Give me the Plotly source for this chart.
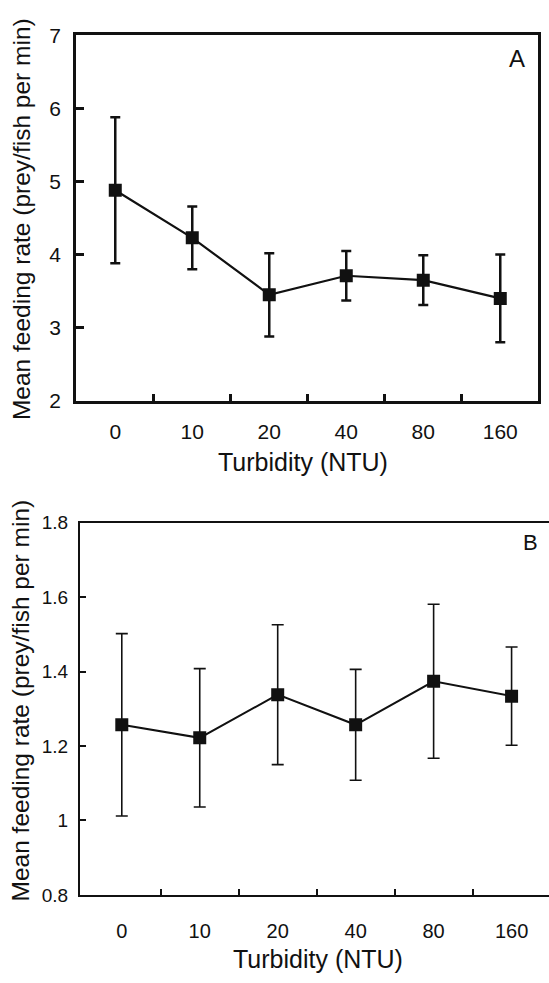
import plotly.graph_objects as go

W, H = 549, 983

categories = ["0", "10", "20", "40", "80", "160"]
mean_a = [4.88, 4.23, 3.45, 3.71, 3.65, 3.40]
err_a = [1.00, 0.43, 0.57, 0.34, 0.34, 0.60]
mean_b = [1.257, 1.222, 1.338, 1.257, 1.374, 1.334]
err_b = [0.245, 0.186, 0.188, 0.149, 0.207, 0.132]
yticks_a = [2, 3, 4, 5, 6, 7]
yticks_b = [0.8, 1.0, 1.2, 1.4, 1.6, 1.8]
yticktext_b = ["0.8", "1", "1.2", "1.4", "1.6", "1.8"]
xlabel = "Turbidity (NTU)"
ylabel = "Mean feeding rate (prey/fish per min)"

FONT = "Liberation Sans, Arial, sans-serif"
INK = "#111111"

def px(x):
    return x / W

def py(y):
    return 1 - y / H

xs = list(range(len(categories)))

fig = go.Figure()
fig.add_trace(go.Scatter(
    x=xs, y=mean_a, mode="lines+markers",
    line=dict(color=INK, width=2.2),
    marker=dict(symbol="square", size=13, color=INK),
    error_y=dict(type="data", array=err_a, color=INK, thickness=2.5, width=5),
    xaxis="x", yaxis="y", showlegend=False,
))
fig.add_trace(go.Scatter(
    x=xs, y=mean_b, mode="lines+markers",
    line=dict(color=INK, width=2),
    marker=dict(symbol="square", size=13, color=INK),
    error_y=dict(type="data", array=err_b, color=INK, thickness=1.6, width=6),
    xaxis="x2", yaxis="y2", showlegend=False,
))

half = [i + 0.5 for i in range(len(categories) - 1)]

common_x = dict(
    tickmode="array", tickvals=xs, ticktext=categories, ticks="",
    showgrid=False, zeroline=False, showline=True, linecolor=INK,
    mirror=True, tickcolor=INK,
)

fig.update_layout(
    width=W, height=H,
    margin=dict(l=0, r=0, t=0, b=0),
    paper_bgcolor="white", plot_bgcolor="white",
    font=dict(family=FONT, color=INK),
    xaxis=dict(
        **common_x, domain=[px(76), px(538)], range=[-0.51, 5.49],
        anchor="y", linewidth=2.5,
        tickfont=dict(size=21, family=FONT, color=INK),
        ticklabelstandoff=10,
        minor=dict(tickmode="array", tickvals=half, ticks="inside",
                   ticklen=7, tickwidth=2.5, tickcolor=INK, showgrid=False),
    ),
    yaxis=dict(
        domain=[py(398), py(24)], range=[2, 7], anchor="x",
        tickmode="array", tickvals=yticks_a,
        ticks="inside", ticklen=8, tickwidth=2.5, tickcolor=INK,
        showgrid=False, zeroline=False, showline=True, linecolor=INK,
        linewidth=2.5, mirror=True,
        tickfont=dict(size=21, family=FONT, color=INK),
        ticklabelstandoff=8,
    ),
    xaxis2=dict(
        **common_x, domain=[px(80), 1.0], range=[-0.536, 5.48],
        anchor="y2", linewidth=2,
        tickfont=dict(size=20, family=FONT, color=INK),
        ticklabelstandoff=17,
        minor=dict(tickmode="array", tickvals=half, ticks="inside",
                   ticklen=6, tickwidth=2, tickcolor=INK, showgrid=False),
    ),
    yaxis2=dict(
        domain=[py(904), py(523)], range=[0.8, 1.8], anchor="x2",
        tickmode="array", tickvals=yticks_b, ticktext=yticktext_b,
        ticks="inside", ticklen=6, tickwidth=2, tickcolor=INK,
        showgrid=False, zeroline=False, showline=True, linecolor=INK,
        linewidth=2, mirror=False,
        tickfont=dict(size=19, family=FONT, color=INK),
        ticklabelstandoff=6,
    ),
)

ann = []
ann.append(dict(text=ylabel, x=px(21), y=py(212), xref="paper", yref="paper",
                xanchor="center", yanchor="middle", textangle=-90,
                showarrow=False, font=dict(size=24.5, family=FONT, color=INK)))
ann.append(dict(text=xlabel, x=px(303), y=py(461), xref="paper", yref="paper",
                xanchor="center", yanchor="middle",
                showarrow=False, font=dict(size=25, family=FONT, color=INK)))
ann.append(dict(text="A", x=px(517), y=py(48), xref="paper", yref="paper",
                xanchor="center", yanchor="middle",
                showarrow=False, font=dict(size=24, family=FONT, color=INK)))
ann.append(dict(text=ylabel, x=px(21), y=py(705), xref="paper", yref="paper",
                xanchor="center", yanchor="middle", textangle=-90,
                showarrow=False, font=dict(size=24.5, family=FONT, color=INK)))
ann.append(dict(text=xlabel, x=px(318), y=py(970), xref="paper", yref="paper",
                xanchor="center", yanchor="middle",
                showarrow=False, font=dict(size=25, family=FONT, color=INK)))
ann.append(dict(text="B", x=px(530), y=py(543), xref="paper", yref="paper",
                xanchor="center", yanchor="middle",
                showarrow=False, font=dict(size=22, family=FONT, color=INK)))
fig.update_layout(annotations=ann)

fig.write_html("out.html")
